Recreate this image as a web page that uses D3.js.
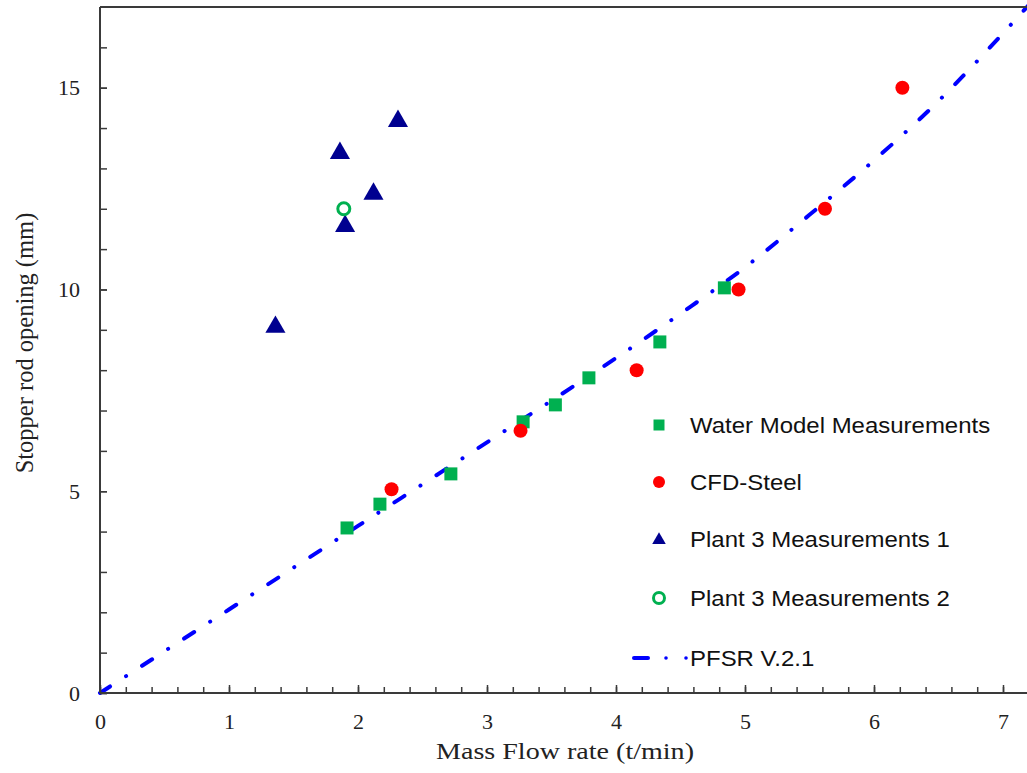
<!DOCTYPE html>
<html>
<head>
<meta charset="utf-8">
<script src="https://cdn.jsdelivr.net/npm/d3@7"></script>
<style>
  html, body { margin: 0; padding: 0; background: #fff; }
  svg { display: block; }
</style>
</head>
<body>
<svg id="chart" width="1027" height="773"></svg>
<script>
// ---- data ----
const waterX = [1.915, 2.17, 2.72, 3.28, 3.53, 3.79, 4.34, 4.84];
const waterY = [4.09, 4.68, 5.43, 6.72, 7.14, 7.81, 8.70, 10.04];

const cfdX = [2.26, 3.26, 4.16, 4.95, 5.62, 6.22];
const cfdY = [5.05, 6.5, 8.0, 10.0, 12.0, 15.0];

const plant1X = [1.36, 1.86, 1.90, 2.12, 2.31];
const plant1Y = [9.07, 13.38, 11.57, 12.37, 14.17];

const plant2X = [1.89];
const plant2Y = [12.0];

const pfsrX = [0, 1, 2, 3, 4, 4.5, 5, 5.5, 6, 6.5, 7, 7.2];
const pfsrY = [0, 2.07, 4.14, 6.21, 8.3, 9.4, 10.55, 11.85, 13.2, 14.67, 16.35, 17.05];

const xTicks = [0, 1, 2, 3, 4, 5, 6, 7];
const yTicks = [0, 5, 10, 15];

const legendLabels = ["Water Model Measurements", "CFD-Steel", "Plant 3 Measurements 1", "Plant 3 Measurements 2", "PFSR V.2.1"];

// ---- layout ----
const svg = d3.select("#chart");
const L = 100, T = 7, B = 693;
const x = d3.scaleLinear().domain([0, 7.2]).range([L, L + 7.2 * 129]);
const y = d3.scaleLinear().domain([0, 17]).range([B, T]);

const axisColor = "#3a3a3a";
const serif = "'Liberation Serif', 'Times New Roman', serif";
const sans = "'Liberation Sans', Arial, sans-serif";

// PFSR line
const line = d3.line().x(d => x(d[0])).y(d => y(d[1])).curve(d3.curveMonotoneX);
svg.append("path")
  .datum(pfsrX.map((v, i) => [v, pfsrY[i]]))
  .attr("d", line)
  .attr("fill", "none")
  .attr("stroke", "#0000ff")
  .attr("stroke-width", 4)
  .attr("stroke-linecap", "round")
  .attr("stroke-dasharray", "12,19,0.1,19");

// axes
const gx = svg.append("g").attr("transform", `translate(0,${B})`);
gx.call(d3.axisBottom(x).tickValues(d3.range(0, 7.21, 0.2)).tickSize(-6).tickFormat(""));
gx.selectAll(".tick line").attr("stroke", axisColor).attr("stroke-width", 1.5);
const gx2 = svg.append("g").attr("transform", `translate(0,${B})`);
gx2.call(d3.axisBottom(x).tickValues(xTicks).tickSize(-8).tickPadding(20).tickFormat(d3.format("d")));
gx2.selectAll(".tick line").attr("stroke", axisColor).attr("stroke-width", 1.5);
gx2.selectAll(".tick text").attr("font-family", serif).attr("font-size", 22).attr("fill", "#222");
svg.selectAll(".domain").remove();

const gy = svg.append("g").attr("transform", `translate(${L},0)`);
gy.call(d3.axisLeft(y).tickValues(d3.range(0, 17, 1)).tickSize(-7).tickFormat(""));
gy.selectAll(".tick line").attr("stroke", axisColor).attr("stroke-width", 1.5);
const gy2 = svg.append("g").attr("transform", `translate(${L},0)`);
gy2.call(d3.axisLeft(y).tickValues(yTicks).tickSize(-7).tickPadding(20).tickFormat(d3.format("d")));
gy2.selectAll(".tick line").attr("stroke", axisColor).attr("stroke-width", 1.5);
gy2.selectAll(".tick text").attr("font-family", serif).attr("font-size", 22).attr("fill", "#222");
svg.selectAll(".domain").remove();

// axis lines + top border
svg.append("line").attr("x1", L).attr("x2", 1027).attr("y1", B).attr("y2", B).attr("stroke", axisColor).attr("stroke-width", 2);
svg.append("line").attr("x1", L).attr("x2", L).attr("y1", T).attr("y2", B).attr("stroke", axisColor).attr("stroke-width", 2);
svg.append("line").attr("x1", L).attr("x2", 1027).attr("y1", T).attr("y2", T).attr("stroke", axisColor).attr("stroke-width", 2);

// axis titles
svg.append("text").attr("x", 565).attr("y", 759).attr("text-anchor", "middle")
  .attr("font-family", serif).attr("font-size", 23).attr("fill", "#222")
  .attr("textLength", 258).attr("lengthAdjust", "spacingAndGlyphs")
  .text("Mass Flow rate (t/min)");
svg.append("text").attr("transform", "translate(33,343) rotate(-90)").attr("text-anchor", "middle")
  .attr("font-family", serif).attr("font-size", 24.5).attr("fill", "#222").text("Stopper rod opening (mm)");

// markers
const green = "#00b050", red = "#ff0000", navy = "#000090";
svg.append("g").selectAll("path").data(waterX.map((v, i) => [v, waterY[i]])).join("path")
  .attr("d", d3.symbol().type(d3.symbolSquare).size(169))
  .attr("transform", d => `translate(${x(d[0])},${y(d[1])})`)
  .attr("fill", green);
svg.append("g").selectAll("circle").data(cfdX.map((v, i) => [v, cfdY[i]])).join("circle")
  .attr("cx", d => x(d[0])).attr("cy", d => y(d[1])).attr("r", 7)
  .attr("fill", red);
svg.append("g").selectAll("path").data(plant1X.map((v, i) => [v, plant1Y[i]])).join("path")
  .attr("d", d3.symbol().type(d3.symbolTriangle).size(175))
  .attr("transform", d => `translate(${x(d[0])},${y(d[1])})`)
  .attr("fill", navy);
svg.append("g").selectAll("circle").data(plant2X.map((v, i) => [v, plant2Y[i]])).join("circle")
  .attr("cx", d => x(d[0])).attr("cy", d => y(d[1])).attr("r", 6)
  .attr("fill", "none").attr("stroke", green).attr("stroke-width", 3);

// legend
const legY = [425, 482, 539, 598, 658];
const lg = svg.append("g");
const mx = 659, tx = 690;
lg.append("path").attr("d", d3.symbol().type(d3.symbolSquare).size(121)())
  .attr("transform", `translate(${mx},${legY[0]})`).attr("fill", green);
lg.append("circle").attr("cx", mx).attr("cy", legY[1]).attr("r", 6).attr("fill", red);
lg.append("path").attr("d", d3.symbol().type(d3.symbolTriangle).size(80)())
  .attr("transform", `translate(${mx},${legY[2] + 1})`).attr("fill", navy);
lg.append("circle").attr("cx", mx).attr("cy", legY[3]).attr("r", 5.5).attr("fill", "none").attr("stroke", green).attr("stroke-width", 3);
lg.append("line").attr("x1", 634).attr("x2", 648).attr("y1", legY[4]).attr("y2", legY[4])
  .attr("stroke", "#0000ff").attr("stroke-width", 4).attr("stroke-linecap", "round");
lg.append("circle").attr("cx", 666).attr("cy", legY[4]).attr("r", 1.8).attr("fill", "#0000ff");
lg.append("circle").attr("cx", 686).attr("cy", legY[4]).attr("r", 1.8).attr("fill", "#0000ff");
lg.selectAll("text").data(legendLabels).join("text")
  .attr("transform", (d, i) => `translate(${tx},${legY[i] + 8}) scale(1.09,1)`)
  .attr("font-family", sans).attr("font-size", 22).attr("fill", "#111")
  .text(d => d);
</script>
</body>
</html>
